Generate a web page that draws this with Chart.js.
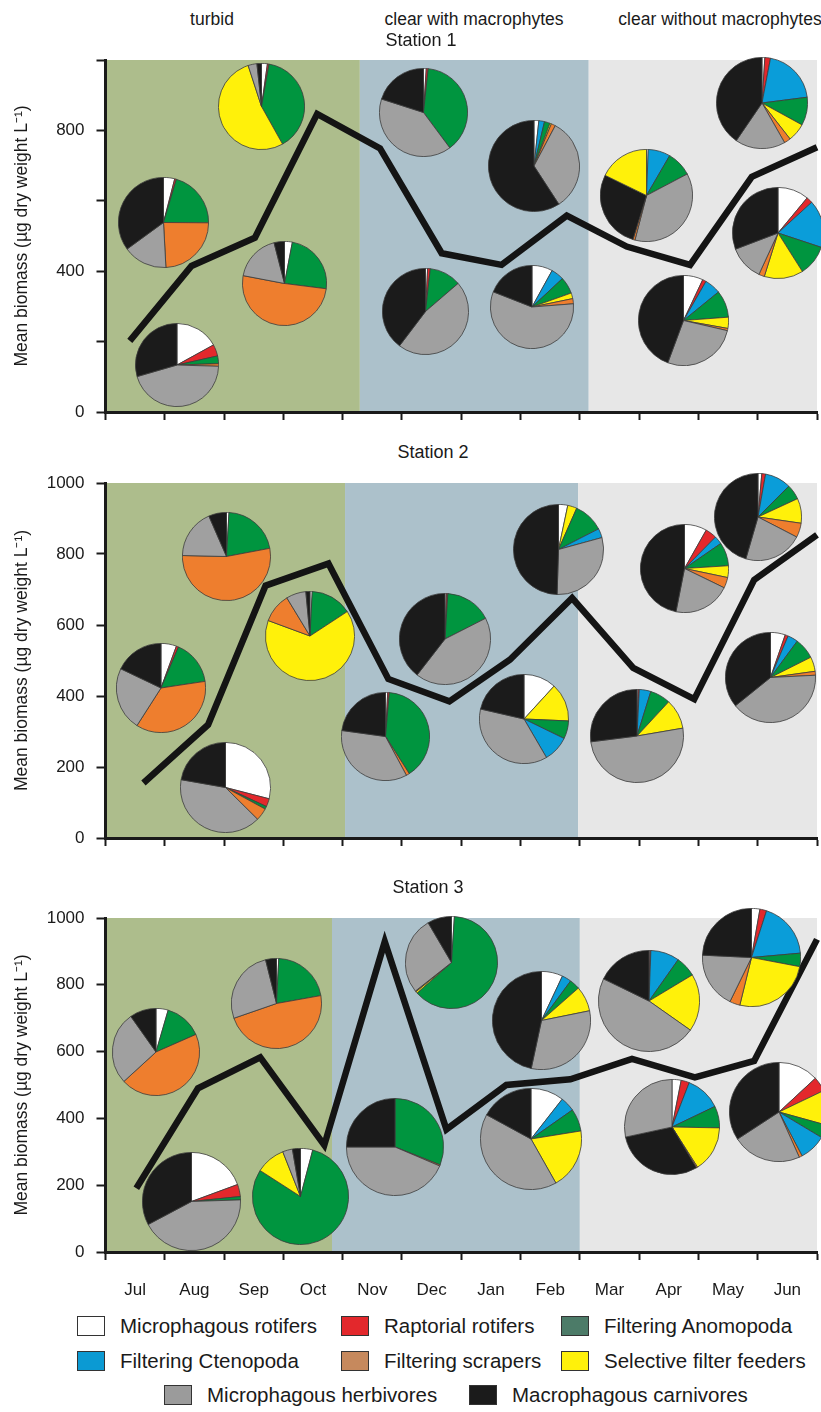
<!DOCTYPE html>
<html>
<head>
<meta charset="utf-8">
<script src="https://cdn.jsdelivr.net/npm/chart.js@4.4.1/dist/chart.umd.min.js"></script>
<style>
  body { margin: 0; background: #fff; font-family: "Liberation Sans", Arial, sans-serif; color: #1a1a1a; }
  #page { position: relative; width: 821px; height: 1412px; overflow: hidden; }
  .panel { position: absolute; left: 0; width: 821px; }
  .pie { position: absolute; }
  .lbl { position: absolute; white-space: nowrap; transform: translate(-50%, -50%); }
  .key { position: absolute; white-space: nowrap; font-size: 20.5px; line-height: 22px; }
  .key i { position: absolute; left: 0; top: 0; width: 26px; height: 18px; border: 1.5px solid #333; }
  .key span { position: absolute; left: 43px; top: -1px; }
</style>
</head>
<body>
<div id="page"></div>
<script>
const months = ['Jul', 'Aug', 'Sep', 'Oct', 'Nov', 'Dec', 'Jan', 'Feb', 'Mar', 'Apr', 'May', 'Jun'];
const groups = ['Microphagous rotifers', 'Raptorial rotifers', 'Filtering Anomopoda', 'Filtering Ctenopoda',
                'Filtering scrapers', 'Selective filter feeders', 'Microphagous herbivores', 'Macrophagous carnivores'];
const phases = ['turbid', 'clear with macrophytes', 'clear without macrophytes'];
const stations = ['Station 1', 'Station 2', 'Station 3'];

// sampling time (months since 1 Jul) and mean biomass
const sampleMonth1 = [0.41, 1.45, 2.52, 3.57, 4.63, 5.67, 6.68, 7.78, 8.79, 9.86, 10.9, 12.0];
const biomass1 = [202, 415, 495, 847, 749, 451, 418, 558, 470, 418, 668, 752];
const sampleMonth2 = [0.64, 1.73, 2.70, 3.76, 4.77, 5.80, 6.82, 7.87, 8.90, 9.93, 10.94, 12.0];
const biomass2 = [155, 319, 711, 773, 448, 385, 502, 676, 479, 391, 727, 854];
const sampleMonth3 = [0.52, 1.56, 2.61, 3.69, 4.71, 5.75, 6.76, 7.84, 8.88, 9.94, 10.94, 12.0];
const biomass3 = [191, 490, 583, 320, 929, 367, 500, 517, 578, 523, 572, 936];

// where the water phases change (months since 1 Jul)
const phaseEdges1 = [4.29, 8.15];
const phaseEdges2 = [4.04, 7.97];
const phaseEdges3 = [3.82, 8.0];

// biomass share (%) of each group, in the order of `groups`
const pies1 = [
  [17, 4.5, 3, 0, 1, 0, 45, 29.5],
  [4, 0.6, 20.5, 0, 24, 0, 15.8, 35],
  [2.2, 0.6, 39, 0, 0, 53, 3.3, 1.7],
  [3, 0, 24, 0, 51, 0, 18, 4],
  [1, 0.7, 38, 0, 0, 0, 40, 20],
  [1.7, 0, 2, 2, 1.5, 0.5, 33, 59],
  [0.8, 1, 12, 0, 0, 0, 47, 40],
  [8, 0, 6.5, 5, 2, 2.2, 57, 19],
  [1, 2, 10, 20, 2.3, 6.5, 17.8, 40.5],
  [0.6, 0, 8.9, 7.8, 0.7, 17.8, 36.8, 27.5],
  [11, 2.2, 10.9, 16.8, 2, 13.8, 12.3, 30.7],
  [7, 1.3, 9.7, 5.8, 0.8, 4, 27, 44.3]
];
const pies2 = [
  [29, 2.9, 1, 0, 4.5, 0, 40.3, 22.2],
  [5.6, 0.8, 16.2, 0, 36.4, 0, 23, 17.9],
  [0.9, 0, 21, 0, 53, 0, 18, 6.5],
  [0.8, 0, 15, 0, 10.7, 65, 7.2, 1.5],
  [0.5, 0.5, 16.5, 0, 0, 0, 43, 39.5],
  [0.8, 0.6, 39.5, 0, 1.2, 0, 35, 22.8],
  [3.3, 0, 10.8, 3.3, 0, 3.3, 29.7, 49.4],
  [8.2, 4.2, 8.6, 3.0, 3.9, 4.3, 20.9, 46.9],
  [1.4, 1.4, 5.6, 9.7, 5.3, 9.2, 21.9, 45.5],
  [5.3, 1.1, 7.5, 3.7, 1.4, 5.2, 40, 35.8],
  [11.8, 0, 6.5, 9.4, 0, 13.9, 37, 21.4],
  [0.4, 0.4, 7.1, 4, 0, 10.4, 50.7, 27]
];
const pies3 = [
  [19.4, 4, 1.1, 0, 0, 0, 42.8, 32.8],
  [4.1, 0, 80, 0, 0, 9.9, 3.3, 2.7],
  [4.5, 0, 13.9, 0, 44.8, 0, 27, 9.8],
  [0.8, 0, 21.4, 0, 47.5, 0, 26.4, 3.9],
  [0, 0, 31, 0, 0.4, 0, 43.6, 25],
  [1, 0, 62, 0, 0.3, 0.6, 27, 8.4],
  [7, 0, 3.4, 3.1, 0, 8.3, 31.5, 46.6],
  [10.6, 0, 7.2, 4.7, 0, 19.4, 41.2, 17.1],
  [0.3, 0.3, 6.6, 9.2, 0, 18.4, 47.5, 17.8],
  [3.1, 2.8, 7.4, 12, 0.4, 15.7, 28.4, 30.2],
  [2.75, 2.2, 4.4, 18.6, 3.4, 25.8, 18.5, 24.2],
  [13.1, 4.8, 4.3, 8.7, 1, 11.4, 22.5, 34.2]
];

// slice order used by each pie (clockwise from 12 o'clock)
const sliceOrders = {
  s: [0, 1, 3, 2, 5, 4, 6, 7],
  a: [0, 1, 5, 2, 3, 4, 6, 7],
  j: [0, 1, 3, 2, 6, 4, 7, 5],
  k: [0, 1, 3, 2, 5, 4, 7, 6]
};
const pieOrder1 = 'sssssssssjss';
const pieOrder2 = 'ssssssasssas';
const pieOrder3 = 'sssssssssksa';

// pie placement: [month, biomass, radius px]
const pieAt1 = [[1.21, 133, 41], [0.975, 538, 44.5], [2.63, 869, 42.3], [3.02, 364, 41.5],
  [5.36, 850, 43.3], [7.23, 699, 45], [5.40, 285, 42.3], [7.20, 299, 41],
  [11.08, 879, 45], [9.13, 614, 45.7], [11.35, 509, 45], [9.74, 261, 44.5]];
const pieAt2 = [[2.02, 141, 44.7], [0.94, 423, 44], [2.04, 793, 43.3], [3.45, 568, 44],
  [5.73, 561, 45], [4.73, 286, 43.3], [7.64, 812, 44.7], [9.76, 758, 43.7],
  [11.0, 904, 42.8], [11.21, 451, 44.5], [7.05, 335, 44], [8.97, 286, 46]];
const pieAt3 = [[1.45, 150, 48.7], [3.29, 165, 47.7], [0.855, 599, 43.2], [2.88, 744, 44.6],
  [4.89, 315, 48], [5.83, 868, 45.3], [7.35, 694, 48.3], [7.17, 337, 50],
  [9.16, 751, 50], [9.55, 374, 47], [10.9, 881, 48.7], [11.36, 419, 49]];

const pieColors = ['#ffffff', '#e3282c', '#00953f', '#0a9dd9', '#ee7e2e', '#fff10a', '#a0a0a0', '#1b1b1b'];
const keyColors = ['#ffffff', '#e3282c', '#4c7b68', '#0b9ad3', '#c6895d', '#fff10a', '#9b9b9b', '#1b1b1b'];
const phaseColors = ['#adbd8c', '#acc1cb', '#e7e7e7'];
const ink = '#1a1a1a';
const FONT = '"Liberation Sans", Arial, sans-serif';

Chart.defaults.font.family = FONT;
Chart.defaults.color = ink;

const page = document.getElementById('page');

const phaseBg = {
  id: 'phaseBg',
  beforeDraw(chart, args, opts) {
    const {ctx, chartArea: a, scales: {x}} = chart;
    const edges = [0, ...opts.edges, 12];
    ctx.save();
    phaseColors.forEach((c, i) => {
      const l = x.getPixelForValue(edges[i]), r = x.getPixelForValue(edges[i + 1]);
      ctx.fillStyle = c;
      ctx.fillRect(l, a.top, r - l, a.bottom - a.top);
    });
    ctx.restore();
  }
};

function makePanel(top, height, cfg) {
  const box = document.createElement('div');
  box.className = 'panel';
  box.style.top = top + 'px';
  box.style.height = height + 'px';
  const cv = document.createElement('canvas');
  cv.width = 821; cv.height = height;
  box.appendChild(cv);
  page.appendChild(box);

  const chart = new Chart(cv, {
    type: 'line',
    data: {
      datasets: [{
        data: cfg.month.map((m, i) => ({x: m, y: cfg.biomass[i]})),
        borderColor: '#141414', borderWidth: 6.5, pointRadius: 0,
        borderJoinStyle: 'miter', borderCapStyle: 'butt', tension: 0, clip: false
      }]
    },
    options: {
      responsive: false, animation: false, events: [],
      layout: {padding: {top: 10, right: 4, left: 0, bottom: 0}},
      plugins: {legend: {display: false}, tooltip: {enabled: false}, phaseBg: {edges: cfg.edges}},
      scales: {
        x: {
          type: 'linear', min: 0, max: 12,
          afterBuildTicks: s => { s.ticks = Array.from({length: 25}, (_, i) => ({value: i / 2})); },
          afterFit: s => { s.height = cfg.xh; s.paddingLeft = 0; s.paddingRight = 0; },
          border: {color: ink, width: 3},
          grid: {drawOnChartArea: false, tickLength: 8, tickWidth: 2,
                 tickColor: c => (c.tick && c.tick.value % 1) ? 'rgba(0,0,0,0)' : ink},
          ticks: {display: cfg.showMonths, autoSkip: false, maxRotation: 0, padding: 20,
                  font: {size: 17}, color: ink,
                  callback: v => v % 1 ? months[Math.floor(v)] : ''}
        },
        y: {
          min: 0, max: 1000,
          afterFit: s => { s.width = 105.5; s.paddingTop = 0; s.paddingBottom = 0; },
          border: {color: ink, width: 3},
          grid: {drawOnChartArea: false, tickLength: 9, tickWidth: 2, color: ink},
          ticks: {stepSize: 200, padding: 12, font: {size: 17}, color: ink,
                  callback: v => cfg.yLabels.includes(v) ? String(v) : ''},
          title: {display: true, text: 'Mean biomass (µg dry weight L⁻¹)', color: ink,
                  font: {size: 17.5}, padding: {top: 12, bottom: 0}}
        }
      }
    },
    plugins: [phaseBg]
  });

  const xs = chart.scales.x, ys = chart.scales.y;
  cfg.pies.forEach((vals, i) => {
    const [m, b, r] = cfg.pieAt[i];
    const cx = xs.getPixelForValue(m), cy = ys.getPixelForValue(b);
    const size = Math.round(2 * r + 2);
    const d = document.createElement('div');
    d.className = 'pie';
    d.style.left = (cx - size / 2) + 'px';
    d.style.top = (cy - size / 2) + 'px';
    d.style.width = size + 'px';
    d.style.height = size + 'px';
    const c = document.createElement('canvas');
    c.width = size; c.height = size;
    d.appendChild(c);
    box.appendChild(d);
    const ord = sliceOrders[cfg.order[i]].filter(k => vals[k] > 0);
    new Chart(c, {
      type: 'pie',
      data: {
        labels: ord.map(k => groups[k]),
        datasets: [{
          data: ord.map(k => vals[k]),
          backgroundColor: ord.map(k => pieColors[k]),
          borderColor: '#3c3c3c', borderWidth: 0.8
        }]
      },
      options: {responsive: false, animation: false, events: [],
                plugins: {legend: {display: false}, tooltip: {enabled: false}}}
    });
  });
  return chart;
}

makePanel(50, 380, {month: sampleMonth1, biomass: biomass1, edges: phaseEdges1, pies: pies1,
  pieAt: pieAt1, order: pieOrder1, yLabels: [0, 400, 800], xh: 18, showMonths: false});
makePanel(473, 383, {month: sampleMonth2, biomass: biomass2, edges: phaseEdges2, pies: pies2,
  pieAt: pieAt2, order: pieOrder2, yLabels: [0, 200, 400, 600, 800, 1000], xh: 18, showMonths: false});
makePanel(908, 400, {month: sampleMonth3, biomass: biomass3, edges: phaseEdges3, pies: pies3,
  pieAt: pieAt3, order: pieOrder3, yLabels: [0, 200, 400, 600, 800, 1000], xh: 56, showMonths: true});

// headings
function label(text, x, y, size) {
  const el = document.createElement('div');
  el.className = 'lbl';
  el.textContent = text;
  el.style.left = x + 'px';
  el.style.top = y + 'px';
  el.style.fontSize = size + 'px';
  page.appendChild(el);
}
[[212, 19], [474, 19], [720, 19]].forEach((p, i) => label(phases[i], p[0], p[1], 17.5));
[[421, 40], [433, 452], [428, 887]].forEach((p, i) => label(stations[i], p[0], p[1], 18));

// legend
const keySpots = [[77, 1316], [341, 1316], [561, 1316], [77, 1351], [341, 1351], [561, 1351], [164, 1385], [469, 1385]];
groups.forEach((g, i) => {
  const el = document.createElement('div');
  el.className = 'key';
  el.style.left = keySpots[i][0] + 'px';
  el.style.top = keySpots[i][1] + 'px';
  el.innerHTML = '<i style="background:' + keyColors[i] + '"></i><span></span>';
  el.querySelector('span').textContent = g;
  page.appendChild(el);
});
</script>
</body>
</html>
